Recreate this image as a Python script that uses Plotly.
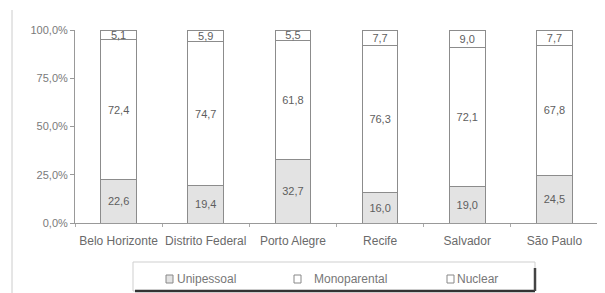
import plotly.graph_objects as go

categories = ["Belo Horizonte", "Distrito Federal", "Porto Alegre", "Recife", "Salvador", "São Paulo"]
unipessoal = [22.6, 19.4, 32.7, 16.0, 19.0, 24.5]
monoparental = [72.4, 74.7, 61.8, 76.3, 72.1, 67.8]
nuclear = [5.1, 5.9, 5.5, 7.7, 9.0, 7.7]
y_ticks = [0, 25, 50, 75, 100]
y_tick_labels = ["0,0%", "25,0%", "50,0%", "75,0%", "100,0%"]
series_names = ["Unipessoal", "Monoparental", "Nuclear"]

line_col = "#8c8c8c"
txt_col = "#5e5e5e"
fam = "Liberation Sans, Arial, sans-serif"
fills = ["#e3e3e3", "#ffffff", "#ffffff"]

# plot area in window pixels (page body has an 8px margin)
PL, PR, PT, PB = 75, 598, 30, 223


def px_x(p):
    return (p - PL) / (PR - PL)


def px_y(p):
    return (PB - p) / (PB - PT)


fig = go.Figure()
for name, vals, fill in zip(series_names, [unipessoal, monoparental, nuclear], fills):
    fig.add_trace(go.Bar(
        name=name, x=categories, y=vals,
        marker=dict(color=fill, line=dict(color=line_col, width=1)),
        width=0.41,
        text=vals, texttemplate="%{y:.1f}", textposition="inside",
        insidetextanchor="middle", textangle=0, constraintext="none",
        textfont=dict(family=fam, size=11, color=txt_col),
        cliponaxis=False, showlegend=False,
    ))

fig.update_layout(
    width=597, height=285,
    barmode="stack",
    separators=",.",
    paper_bgcolor="white", plot_bgcolor="white",
    margin=dict(l=PL - 8, r=597 + 8 - PR, t=PT - 8, b=285 + 8 - PB, autoexpand=False),
    font=dict(family=fam, size=11, color=txt_col),
    uniformtext=dict(minsize=11, mode="show"),
    showlegend=False,
    xaxis=dict(
        showline=True, linecolor="#999999", linewidth=1,
        ticks="outside", tickson="boundaries", ticklen=3, tickcolor="#aaaaaa",
        tickfont=dict(family=fam, size=12, color="#6a6a6a"),
        tickangle=0, ticklabelstandoff=7,
        showgrid=False, fixedrange=True,
    ),
    yaxis=dict(
        range=[0, 100.1], tickvals=y_ticks, ticktext=y_tick_labels,
        showline=True, linecolor="#999999", linewidth=1,
        ticks="outside", ticklen=4, tickcolor="#999999",
        tickfont=dict(family=fam, size=11, color="#7a7a7a"),
        showgrid=False, zeroline=False, fixedrange=True,
    ),
)

# page border on the left
fig.add_shape(type="line", xref="paper", yref="paper",
              x0=px_x(12), x1=px_x(12), y0=px_y(10), y1=px_y(293),
              line=dict(color="#cccccc", width=1))

# legend box (drawn manually to match the original layout)
lx0, lx1, ly0, ly1 = 133, 535, 262, 291
fig.add_shape(type="rect", xref="paper", yref="paper",
              x0=px_x(lx0), x1=px_x(lx1), y0=px_y(ly1), y1=px_y(ly0),
              line=dict(color="#cfcfcf", width=1), fillcolor="white")
fig.add_shape(type="line", xref="paper", yref="paper",
              x0=px_x(lx0 + 2), x1=px_x(lx1), y0=px_y(ly1), y1=px_y(ly1),
              line=dict(color="#333333", width=2.5))
fig.add_shape(type="line", xref="paper", yref="paper",
              x0=px_x(lx1), x1=px_x(lx1), y0=px_y(ly0 + 6), y1=px_y(ly1),
              line=dict(color="#444444", width=2.5))

legend_sym_x = [166, 294, 447]
legend_txt_x = [175, 312, 455]
legend_y = 279
for name, fill, sx, tx in zip(series_names, fills, legend_sym_x, legend_txt_x):
    fig.add_shape(type="rect", xref="paper", yref="paper",
                  x0=px_x(sx), x1=px_x(sx + 7), y0=px_y(legend_y + 4), y1=px_y(legend_y - 4),
                  line=dict(color="#888888", width=1), fillcolor=fill)
    fig.add_annotation(xref="paper", yref="paper", x=px_x(tx), y=px_y(legend_y),
                       text=name, showarrow=False, xanchor="left", yanchor="middle",
                       font=dict(family=fam, size=12, color="#777777"))

fig.write_html("out.html")
